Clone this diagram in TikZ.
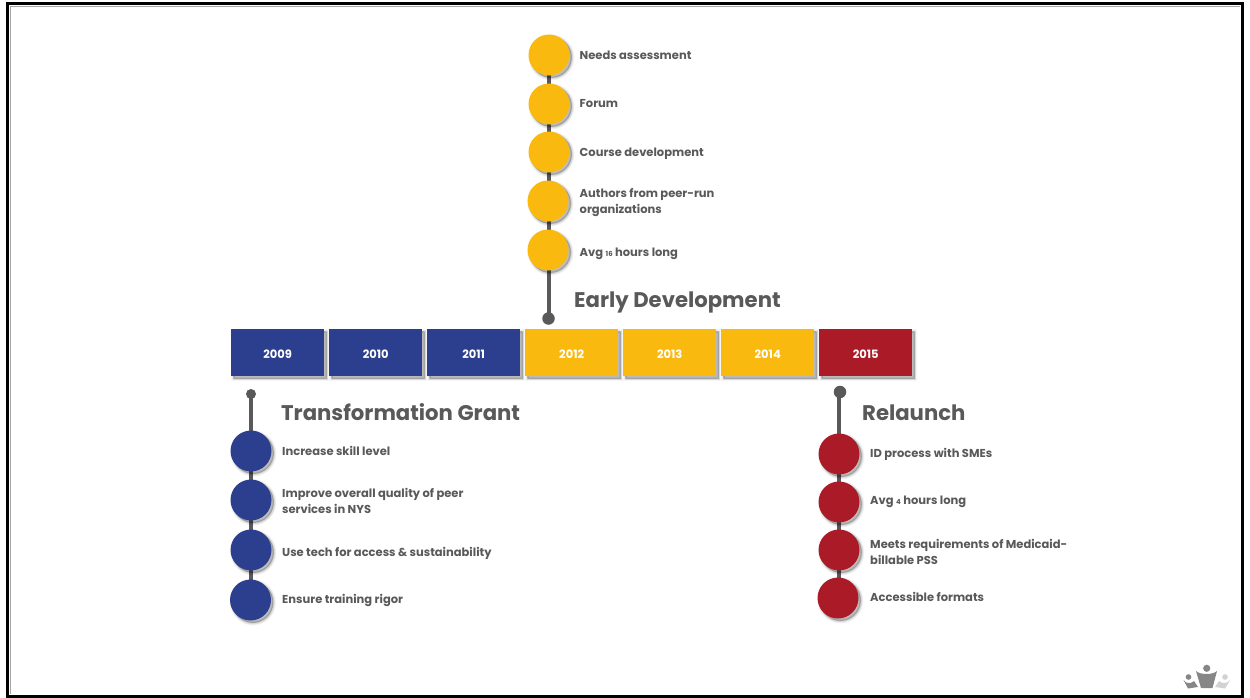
\documentclass[tikz,border=0pt]{standalone}
\usepackage{fontspec}
\setmainfont{Poppins}
\usetikzlibrary{shadows}
\pgfdeclarelayer{spinelayer}
\pgfsetlayers{spinelayer,main}
\definecolor{ink}{HTML}{595959}
\definecolor{cblue}{HTML}{2B3F8E}
\definecolor{cyel}{HTML}{FAB90F}
\definecolor{cred}{HTML}{AB1A27}
\tikzset{
  x=1pt,y=-1pt,
  softshadow/.style={
    general shadow={shadow xshift=2.5pt,shadow yshift=-2.5pt,fill=black,draw=black,opacity=.035,line width=5pt},
    general shadow={shadow xshift=2.5pt,shadow yshift=-2.5pt,fill=black,draw=black,opacity=.05,line width=3.5pt},
    general shadow={shadow xshift=2.5pt,shadow yshift=-2.5pt,fill=black,draw=black,opacity=.07,line width=2pt},
    general shadow={shadow xshift=2pt,shadow yshift=-2pt,fill=black,draw=black,opacity=.10,line width=.5pt}},
  stepdot/.style={circle,minimum size=41pt,inner sep=0pt,softshadow},
  yearbox/.style={rectangle,minimum width=93pt,minimum height=47pt,inner sep=0pt,anchor=north west,softshadow,
    text=white,font=\fontsize{11.5}{14}\selectfont\bfseries},
  item/.style={anchor=west,inner sep=0pt,align=left,text=ink,font=\fontsize{11.5}{16}\selectfont\bfseries},
  heading/.style={anchor=west,inner sep=0pt,text=ink,font=\fontsize{21.2}{24}\selectfont\bfseries},
  spine/.style={draw=ink,line width=4pt},
  enddot/.style={circle,fill=ink,inner sep=0pt,minimum size=12.5pt}
}
\begin{document}
\begin{tikzpicture}
\useasboundingbox (0,0) rectangle (1250,698);
% year boxes
\foreach \nm/\xx/\yr/\cc in {y9/231/2009/cblue,y10/329/2010/cblue,y11/427/2011/cblue,y12/525/2012/cyel,y13/623/2013/cyel,y14/721/2014/cyel,y15/819/2015/cred}
  \node[yearbox,fill=\cc] (\nm) at (\xx,329) {\raisebox{-5.5pt}[0pt][0pt]{\yr}};
% early development
\node[stepdot,fill=cyel] (a1) at (549,55) {};
\node[stepdot,fill=cyel] (a2) at (549,104) {};
\node[stepdot,fill=cyel] (a3) at (549,152) {};
\node[stepdot,fill=cyel] (a4) at (548,201) {};
\node[stepdot,fill=cyel] (a5) at (548,250) {};
\node[enddot] (a6) at (548.5,318.5) {};
\node[item] (ta1) at (579.5,55) {Needs assessment};
\node[item] (ta2) at (579.5,104) {Forum};
\node[item] (ta3) at (579.5,154) {Course development};
\node[item] (ta4) at (579.5,203) {Authors from peer-run\\organizations};
\node[item] (ta5) at (579.5,254) {Avg {\fontsize{7}{8}\selectfont 16} hours long};
\node[heading] (ha) at (574,302) {Early Development};
% transformation grant
\node[stepdot,fill=cblue] (b1) at (251,451) {};
\node[stepdot,fill=cblue] (b2) at (251,500) {};
\node[stepdot,fill=cblue] (b3) at (251,550) {};
\node[stepdot,fill=cblue] (b4) at (250.5,600) {};
\node[enddot,minimum size=10pt] (b0) at (251,394) {};
\node[item] (tb1) at (282,451) {Increase skill level};
\node[item] (tb2) at (282,501) {Improve overall quality of peer\\services in NYS};
\node[item] (tb3) at (282,553) {Use tech for access \& sustainability};
\node[item] (tb4) at (282,600) {Ensure training rigor};
\node[heading] (hb) at (281,412) {Transformation Grant};
% relaunch
\node[stepdot,fill=cred] (c1) at (839,454) {};
\node[stepdot,fill=cred] (c2) at (839,502) {};
\node[stepdot,fill=cred] (c3) at (839,550) {};
\node[stepdot,fill=cred] (c4) at (838,598) {};
\node[enddot] (c0) at (840,392) {};
\node[item] (tc1) at (870,454) {ID process with SMEs};
\node[item] (tc2) at (870,502) {Avg {\fontsize{7}{8}\selectfont 4} hours long};
\node[item] (tc3) at (870,552) {Meets requirements of Medicaid-\\billable PSS};
\node[item] (tc4) at (870,597) {Accessible formats};
\node[heading] (hc) at (862,413) {Relaunch};
\begin{pgfonlayer}{spinelayer}
\fill[white] (0,0) rectangle (1250,698);
\draw[gray!70,line width=1pt] (10,694) -- (10,6.5) -- (1240,6.5);
\draw[black,line width=3pt] (7.5,4) rectangle (1242.5,696);
\draw[spine] (a1.center) -- (a1.center |- a6.center);
\draw[spine] (b1.center |- b0.center) -- (b1.center |- b4.center);
\draw[spine] (c1.center |- c0.center) -- (c1.center |- c4.center);
\end{pgfonlayer}
% logo
\fill[gray!95] (1206.7,668.3) circle (3.6);
\fill[gray!95] (1196,671) .. controls (1200,675) and (1213,675) .. (1217,671) -- (1212.5,688) -- (1201,688) -- cycle;
\fill[gray!95] (1188.5,677) circle (2.8);
\fill[gray!95] (1183.5,680) .. controls (1186,684) and (1191,684) .. (1194,681) -- (1198,687) -- (1188,688.5) -- cycle;
\fill[gray!35] (1225,677) circle (2.8);
\fill[gray!35] (1219,681) .. controls (1222,684) and (1227,684) .. (1230,680) -- (1225,688.5) -- (1215,687) -- cycle;
\end{tikzpicture}
\end{document}
